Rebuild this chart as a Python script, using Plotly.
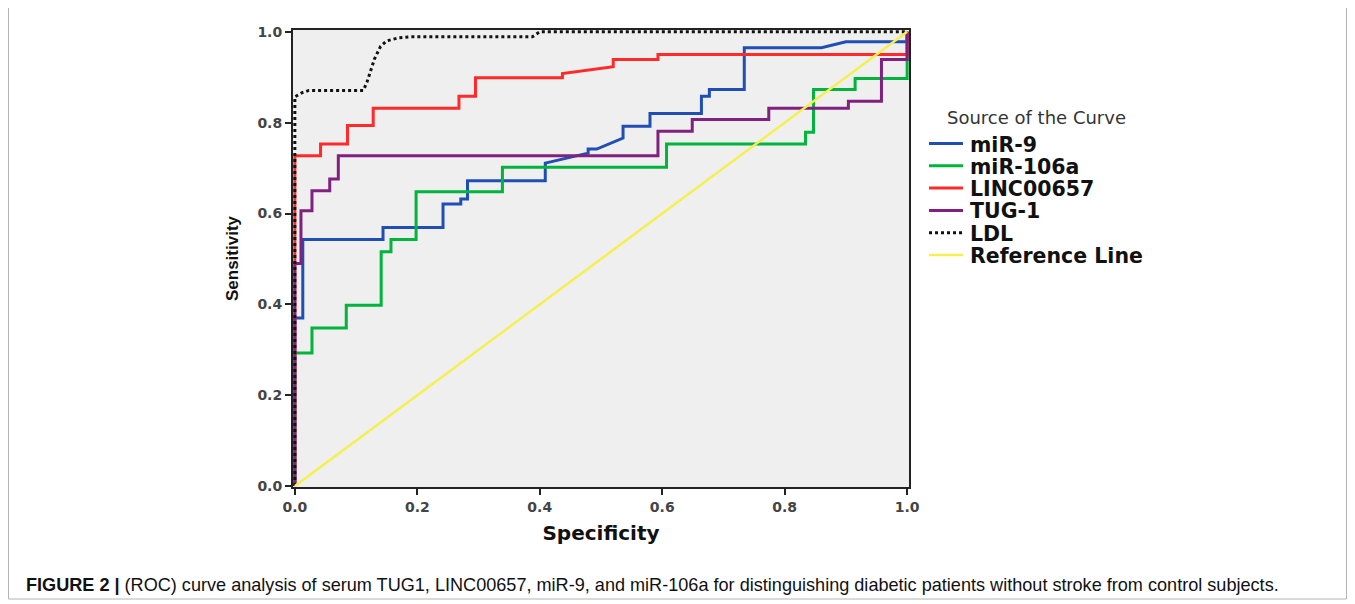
import plotly.graph_objects as go

# ---------------- data ----------------
series_names = ["miR-9", "miR-106a", "LINC00657", "TUG-1", "LDL", "Reference Line"]
series_colors = ["#1f4fb4", "#00b43c", "#ff2a2a", "#80207f", "#111111", "#f5f050"]

mir9_x = [0, 0, 0.013, 0.013, 0.144, 0.144, 0.242, 0.242, 0.271, 0.271, 0.282, 0.282,
          0.409, 0.409, 0.479, 0.479, 0.493, 0.536, 0.536, 0.580, 0.580, 0.664, 0.664,
          0.677, 0.677, 0.734, 0.734, 0.860, 0.900, 1.0, 1.0]
mir9_y = [0, 0.370, 0.370, 0.543, 0.543, 0.569, 0.569, 0.621, 0.621, 0.632, 0.632, 0.672,
          0.672, 0.711, 0.733, 0.742, 0.742, 0.766, 0.792, 0.792, 0.820, 0.820, 0.858,
          0.858, 0.873, 0.873, 0.965, 0.965, 0.978, 0.978, 1.0]

mir106a_x = [0, 0, 0.028, 0.028, 0.084, 0.084, 0.141, 0.141, 0.157, 0.157, 0.198, 0.198,
             0.339, 0.339, 0.607, 0.607, 0.834, 0.834, 0.847, 0.847, 0.915, 0.915, 1.0, 1.0]
mir106a_y = [0, 0.293, 0.293, 0.348, 0.348, 0.398, 0.398, 0.516, 0.516, 0.543, 0.543, 0.648,
             0.648, 0.702, 0.702, 0.753, 0.753, 0.779, 0.779, 0.873, 0.873, 0.897, 0.897, 1.0]

linc_x = [0, 0, 0.042, 0.042, 0.086, 0.086, 0.128, 0.128, 0.268, 0.268, 0.295, 0.295,
          0.437, 0.437, 0.520, 0.520, 0.593, 0.593, 1.0, 1.0]
linc_y = [0, 0.727, 0.727, 0.753, 0.753, 0.794, 0.794, 0.832, 0.832, 0.858, 0.858, 0.899,
          0.899, 0.908, 0.923, 0.939, 0.939, 0.950, 0.950, 1.0]

tug1_x = [0, 0, 0.010, 0.010, 0.028, 0.028, 0.057, 0.057, 0.071, 0.071, 0.593, 0.593,
          0.649, 0.649, 0.774, 0.774, 0.904, 0.904, 0.958, 0.958, 1.0, 1.0]
tug1_y = [0, 0.490, 0.490, 0.606, 0.606, 0.650, 0.650, 0.676, 0.676, 0.727, 0.727, 0.781,
          0.781, 0.807, 0.807, 0.832, 0.832, 0.847, 0.847, 0.939, 0.939, 1.0]

ldl_x = [0, 0, 0.012, 0.023, 0.112, 0.118, 0.130, 0.140, 0.150, 0.170, 0.190, 0.388, 0.400, 1.0]
ldl_y = [0, 0.857, 0.866, 0.871, 0.871, 0.890, 0.940, 0.968, 0.980, 0.987, 0.989, 0.989, 1.0, 1.0]

ref_x = [0, 1]
ref_y = [0, 1]

x_ticks = [0.0, 0.2, 0.4, 0.6, 0.8, 1.0]
y_ticks = [0.0, 0.2, 0.4, 0.6, 0.8, 1.0]
tick_text = ["0.0", "0.2", "0.4", "0.6", "0.8", "1.0"]

x_title = "Specificity"
y_title = "Sensitivity"
legend_title = "Source of the Curve"
caption_bold = "FIGURE 2 |"
caption_text = (" (ROC) curve analysis of serum TUG1, LINC00657, miR-9, and miR-106a for "
                "distinguishing diabetic patients without stroke from control subjects.")

xs = [mir9_x, mir106a_x, linc_x, tug1_x, ldl_x, ref_x]
ys = [mir9_y, mir106a_y, linc_y, tug1_y, ldl_y, ref_y]
dashes = ["solid", "solid", "solid", "solid", "dot", "solid"]
widths = [3, 3, 3, 3, 3, 2.5]

# ---------------- layout geometry ----------------
OFF = 8                      # page body margin of the browser
W, H = 1355 - 2 * OFF, 604 - OFF
L, R, T, B = 293, 909, 30, 487   # plot area in window px


def xp(px):
    return (px - L) / (R - L)


def yp(py):
    return (B - py) / (B - T)


fig = go.Figure()
for name, x, y, c, d, w in zip(series_names, xs, ys, series_colors, dashes, widths):
    fig.add_trace(go.Scatter(x=x, y=y, mode="lines", name=name,
                             line=dict(color=c, width=w, dash=d), showlegend=False))

shapes = []
annotations = []

# manual legend (lines + labels)
leg_y0 = 143.5
leg_dy = 22.3
for i, (name, c, d, w) in enumerate(zip(series_names, series_colors, dashes, widths)):
    py = leg_y0 + i * leg_dy
    shapes.append(dict(type="line", xref="paper", yref="paper",
                       x0=xp(929), x1=xp(963), y0=yp(py), y1=yp(py),
                       line=dict(color=c, width=w, dash=d)))
    annotations.append(dict(text=name, xref="paper", yref="paper", x=xp(968), y=yp(py + 1),
                            xanchor="left", yanchor="middle", showarrow=False,
                            font=dict(family="DejaVu Sans", size=20.5, color="#111", weight="bold")))
annotations.append(dict(text=legend_title, xref="paper", yref="paper", x=xp(945), y=yp(118),
                        xanchor="left", yanchor="middle", showarrow=False,
                        font=dict(family="DejaVu Sans", size=18, color="#333")))

# caption
annotations.append(dict(text="<b>" + caption_bold + "</b>" + caption_text,
                        xref="paper", yref="paper", x=xp(24), y=yp(585),
                        xanchor="left", yanchor="middle", showarrow=False,
                        font=dict(family="Liberation Sans", size=18.1, color="#111")))

# outer figure frame
shapes.append(dict(type="rect", xref="paper", yref="paper",
                   x0=xp(8.5), x1=xp(1346.5), y0=yp(599), y1=yp(7.5),
                   line=dict(color="#b4b4b4", width=1), layer="below"))

fig.update_layout(
    width=W, height=H,
    margin=dict(l=L - OFF, r=(W + OFF) - R, t=T - OFF, b=(H + OFF) - B, autoexpand=False),
    paper_bgcolor="white",
    plot_bgcolor="#efefef",
    shapes=shapes,
    annotations=annotations,
    showlegend=False,
)

axis_common = dict(
    showgrid=False, zeroline=False, showline=True, linecolor="#222", linewidth=2,
    mirror=True, ticks="outside", ticklen=6, tickwidth=2, tickcolor="#222",
    tickfont=dict(family="DejaVu Sans", size=14, color="#444", weight="bold"),
)
fig.update_xaxes(range=[-0.003, 1.003], tickvals=x_ticks, ticktext=tick_text,
                 title=dict(text=x_title, standoff=12,
                            font=dict(family="DejaVu Sans", size=20, color="#111", weight="bold")),
                 **axis_common)
fig.update_yaxes(range=[-0.002, 1.004], tickvals=y_ticks, ticktext=tick_text,
                 title=dict(text=y_title, standoff=14,
                            font=dict(family="Liberation Sans", size=17, color="#111", weight="bold")),
                 **axis_common)

fig.write_html("out.html")
